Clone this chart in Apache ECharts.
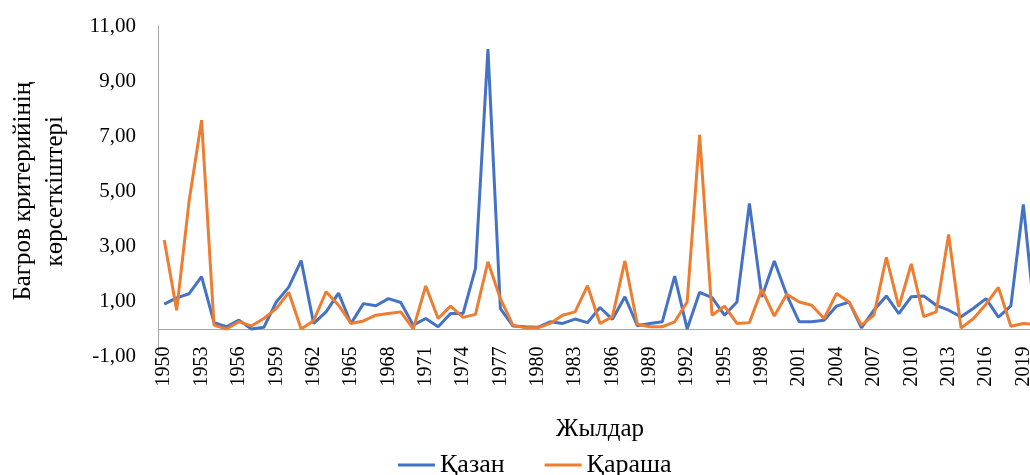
<!DOCTYPE html>
<html>
<head>
<meta charset="utf-8">
<script src="https://cdn.jsdelivr.net/npm/echarts@6/dist/echarts.min.js"></script>
<style>
  html, body { margin: 0; padding: 0; background: #fff; }
  #chart { width: 1030px; height: 475px; }
</style>
</head>
<body>
<div id="chart"></div>
<script>
// Багров критерийі: қазан және қараша айлары, 1950–2020
const years = []
for (let y = 1950; y <= 2020; y++) years.push(String(y))

const kazan = [
  0.90, 1.13, 1.28, 1.90, 0.23, 0.08, 0.32, 0.00, 0.06, 0.98,
  1.52, 2.48, 0.20, 0.62, 1.30, 0.20, 0.92, 0.84, 1.10, 0.96,
  0.14, 0.38, 0.08, 0.56, 0.56, 2.20, 10.16, 0.74, 0.11, 0.08,
  0.06, 0.26, 0.20, 0.36, 0.23, 0.78, 0.35, 1.17, 0.12, 0.20,
  0.26, 1.92, 0.00, 1.33, 1.14, 0.50, 0.98, 4.56, 1.16, 2.47,
  1.23, 0.26, 0.26, 0.32, 0.83, 0.98, 0.04, 0.68, 1.20, 0.56,
  1.17, 1.20, 0.86, 0.68, 0.44, 0.75, 1.10, 0.43, 0.84, 4.52,
  0.10,
]

const karasha = [
  3.23, 0.68, 4.65, 7.58, 0.14, 0.00, 0.26, 0.11, 0.38, 0.74,
  1.33, 0.00, 0.30, 1.35, 0.86, 0.20, 0.29, 0.50, 0.56, 0.62,
  0.00, 1.56, 0.38, 0.83, 0.42, 0.53, 2.44, 1.10, 0.14, 0.04,
  0.04, 0.20, 0.50, 0.62, 1.57, 0.20, 0.45, 2.47, 0.17, 0.08,
  0.08, 0.26, 0.98, 7.05, 0.50, 0.83, 0.20, 0.23, 1.44, 0.47,
  1.26, 0.98, 0.86, 0.38, 1.29, 0.98, 0.14, 0.50, 2.60, 0.80,
  2.36, 0.45, 0.62, 3.43, 0.03, 0.38, 0.90, 1.51, 0.10, 0.20,
  0.16,
]

const yTicks = { min: -1, max: 11, step: 2 }

const font = '"Liberation Serif", "Times New Roman", serif'
const axisGray = '#a6a6a6'

const chart = echarts.init(document.getElementById('chart'), null, { renderer: 'canvas' })

const option = {
  animation: false,
  backgroundColor: '#fff',
  textStyle: { fontFamily: font, color: '#000' },
  grid: {
    left: 158,
    top: 26,
    width: 884, // сурет оң жақтан кесілген, 2020 жыл шеттен тыс
    height: 330.5,
    outerBoundsMode: 'none',
    containLabel: false,
  },
  legend: {
    data: ['Қазан', 'Қараша'],
    left: 393,
    top: 447,
    icon: 'rect',
    itemWidth: 37,
    itemHeight: 3,
    itemGap: 40,
    textStyle: { fontFamily: font, fontSize: 26, color: '#000' },
  },
  xAxis: {
    type: 'category',
    data: years,
    boundaryGap: true,
    name: 'Жылдар',
    nameLocation: 'middle',
    nameGap: 60,
    nameTextStyle: { fontFamily: font, fontSize: 25, color: '#000' },
    axisLine: { show: false, onZero: false },
    axisTick: { show: false },
    axisLabel: {
      interval: 2,
      rotate: 90,
      margin: -10,
      fontSize: 20,
      fontFamily: font,
      color: '#000',
    },
    splitLine: { show: false },
  },
  yAxis: {
    type: 'value',
    min: yTicks.min,
    max: yTicks.max,
    interval: yTicks.step,
    name: 'Багров критерийінің\nкөрсеткіштері',
    nameLocation: 'middle',
    nameGap: 87,
    nameTextStyle: { fontFamily: font, fontSize: 25, color: '#000', lineHeight: 32 },
    axisLine: { show: true, lineStyle: { color: axisGray, width: 1 } },
    axisTick: { show: false },
    splitLine: { show: false },
    axisLabel: {
      margin: 22,
      fontSize: 21,
      fontFamily: font,
      color: '#000',
      formatter: v => v.toFixed(2).replace('.', ','),
    },
  },
  series: [
    {
      name: 'Қазан',
      type: 'line',
      data: kazan,
      symbol: 'none',
      lineStyle: { color: '#4472C4', width: 3 },
      itemStyle: { color: '#4472C4' },
      z: 3,
      markLine: {
        silent: true,
        symbol: ['none', 'none'],
        label: { show: false },
        lineStyle: { color: axisGray, type: 'solid', width: 1 },
        emphasis: { disabled: true },
        data: [{ yAxis: 0 }],
        z: 1,
      },
    },
    {
      name: 'Қараша',
      type: 'line',
      data: karasha,
      symbol: 'none',
      lineStyle: { color: '#ED7D31', width: 3 },
      itemStyle: { color: '#ED7D31' },
      z: 4,
    },
  ],
}

chart.setOption(option)
</script>
</body>
</html>
